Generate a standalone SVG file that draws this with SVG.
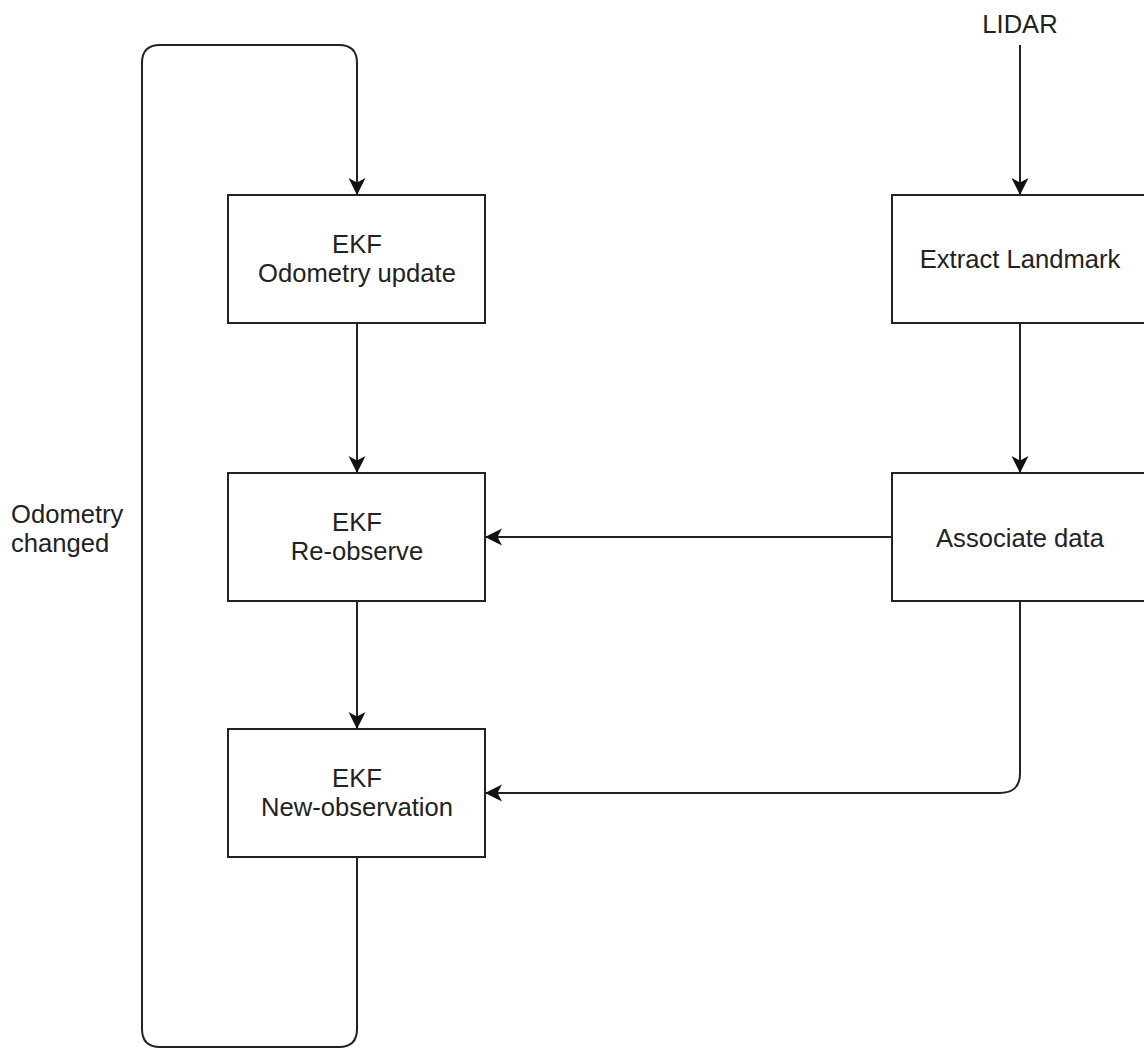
<svg xmlns="http://www.w3.org/2000/svg" width="1144" height="1049" viewBox="0 0 1144 1049">
  <style>
    .box { fill: #ffffff; stroke: #222222; stroke-width: 2; }
    .edge { fill: none; stroke: #222222; stroke-width: 2; }
    .lbl { font-family: "Liberation Sans", Arial, sans-serif; font-size: 25.6px; fill: #222222; }
    .mid { text-anchor: middle; }
  </style>
  <defs>
    <marker id="arrow" viewBox="0 0 18 18" refX="17" refY="9" markerWidth="18" markerHeight="18" markerUnits="userSpaceOnUse" orient="auto">
      <path d="M17,9 L0,0.5 L4.5,9 L0,17.5 Z" fill="#111111"/>
    </marker>
  </defs>
  <rect width="1144" height="1049" fill="#ffffff"/>

  <g id="connectors">
    <!-- feedback loop: New-observation back to Odometry update -->
    <path class="edge" d="M357,857 V1029 Q357,1047 339,1047 H160 Q142,1047 142,1029 V63 Q142,45 160,45 H339 Q357,45 357,63 V195" marker-end="url(#arrow)"/>
    <!-- vertical flow on the left column -->
    <path class="edge" d="M357,323 V473" marker-end="url(#arrow)"/>
    <path class="edge" d="M357,601 V729" marker-end="url(#arrow)"/>
    <!-- LIDAR input -->
    <path class="edge" d="M1020,45 V195" marker-end="url(#arrow)"/>
    <path class="edge" d="M1020,323 V473" marker-end="url(#arrow)"/>
    <!-- association results -->
    <path class="edge" d="M892,537 H485" marker-end="url(#arrow)"/>
    <path class="edge" d="M1020,601 V773 Q1020,793 1000,793 H485" marker-end="url(#arrow)"/>
  </g>

  <g id="odometry-update">
    <rect class="box" x="228" y="195" width="257" height="128"/>
    <text class="lbl mid" x="357" y="253">EKF</text>
    <text class="lbl mid" x="357" y="282">Odometry update</text>
  </g>

  <g id="re-observe">
    <rect class="box" x="228" y="473" width="257" height="128"/>
    <text class="lbl mid" x="357" y="531">EKF</text>
    <text class="lbl mid" x="357" y="560">Re-observe</text>
  </g>

  <g id="new-observation">
    <rect class="box" x="228" y="729" width="257" height="128"/>
    <text class="lbl mid" x="357" y="787">EKF</text>
    <text class="lbl mid" x="357" y="816">New-observation</text>
  </g>

  <g id="extract-landmark">
    <rect class="box" x="892" y="195" width="256" height="128"/>
    <text class="lbl mid" x="1020" y="268">Extract Landmark</text>
  </g>

  <g id="associate-data">
    <rect class="box" x="892" y="473" width="256" height="128"/>
    <text class="lbl mid" x="1020" y="547">Associate data</text>
  </g>

  <g id="lidar">
    <text class="lbl mid" x="1020" y="33">LIDAR</text>
  </g>

  <g id="odometry-changed">
    <text class="lbl" x="11" y="523">Odometry</text>
    <text class="lbl" x="11" y="552">changed</text>
  </g>
</svg>
